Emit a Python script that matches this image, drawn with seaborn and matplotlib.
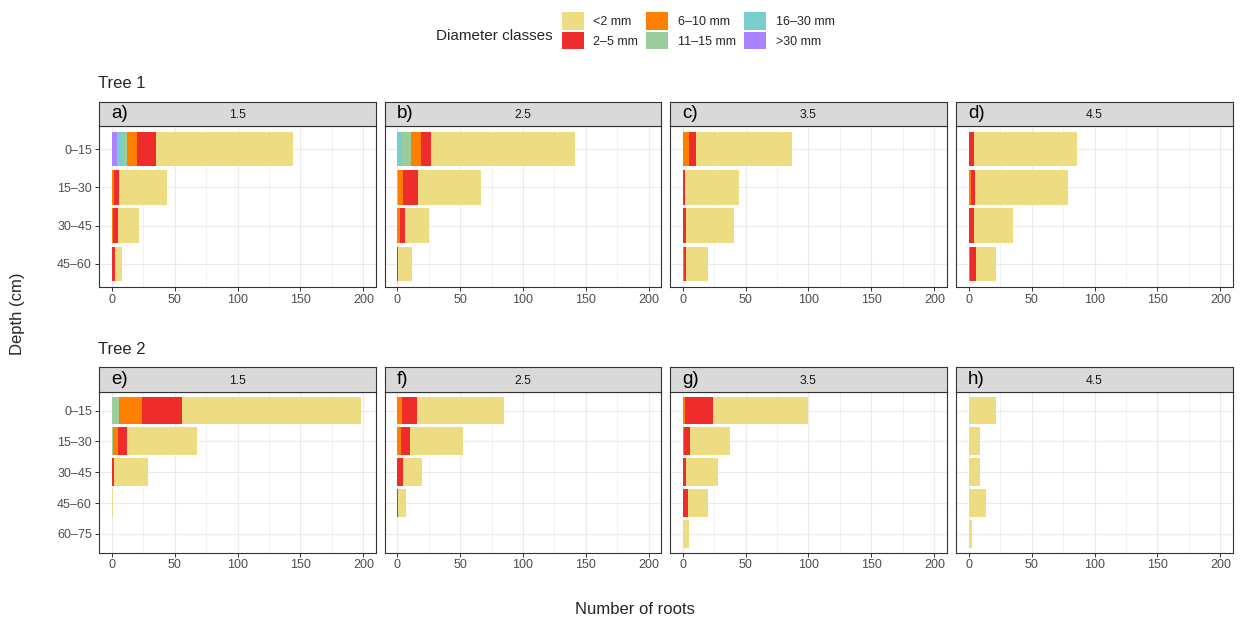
import numpy as np
import pandas as pd
import matplotlib
matplotlib.use("Agg")
import matplotlib.pyplot as plt
from matplotlib.patches import Patch
from matplotlib.ticker import FixedLocator
import seaborn as sns

# ---- data -------------------------------------------------------------
classes = ["<2 mm", "2–5 mm", "6–10 mm", "11–15 mm", "16–30 mm", ">30 mm"]
class_colors = ["#EEDC82", "#EE2C2C", "#FF7F00", "#9BCD9B", "#79CDCD", "#AB82FF"]

depths_tree1 = ["0–15", "15–30", "30–45", "45–60"]
depths_tree2 = ["0–15", "15–30", "30–45", "45–60", "60–75"]
distances = ["1.5", "2.5", "3.5", "4.5"]
letters_tree1 = ["a)", "b)", "c)", "d)"]
letters_tree2 = ["e)", "f)", "g)", "h)"]

# root counts per diameter class (order of `classes`), one list per depth
tree1_d15 = [[109, 38, 17, 5], [15, 4, 4, 3], [8, 2, 1, 0],
             [2, 0, 0, 0], [6, 0, 0, 0], [4, 0, 0, 0]]
tree1_d25 = [[114, 50, 19, 11], [8, 12, 4, 1], [8, 4, 2, 0],
             [7, 1, 0, 0], [4, 0, 0, 0], [0, 0, 0, 0]]
tree1_d35 = [[76, 43, 38, 17], [6, 2, 3, 2], [5, 0, 0, 1],
             [0, 0, 0, 0], [0, 0, 0, 0], [0, 0, 0, 0]]
tree1_d45 = [[82, 74, 31, 16], [4, 3, 4, 5], [0, 2, 0, 1],
             [0, 0, 0, 0], [0, 0, 0, 0], [0, 0, 0, 0]]

tree2_d15 = [[142, 56, 27, 1, 0], [32, 7, 2, 0, 0], [18, 4, 0, 0, 0],
             [6, 1, 0, 0, 0], [0, 0, 0, 0, 0], [0, 0, 0, 0, 0]]
tree2_d25 = [[69, 42, 15, 6, 0], [12, 7, 5, 1, 0], [4, 3, 0, 0, 0],
             [0, 0, 0, 0, 0], [0, 0, 0, 0, 0], [0, 0, 0, 0, 0]]
tree2_d35 = [[76, 32, 25, 16, 5], [22, 5, 3, 4, 0], [2, 1, 0, 0, 0],
             [0, 0, 0, 0, 0], [0, 0, 0, 0, 0], [0, 0, 0, 0, 0]]
tree2_d45 = [[22, 9, 9, 14, 3], [0, 0, 0, 0, 0], [0, 0, 0, 0, 0],
             [0, 0, 0, 0, 0], [0, 0, 0, 0, 0], [0, 0, 0, 0, 0]]

# ---- style ------------------------------------------------------------
sns.set_theme(style="white")
plt.rcParams["font.family"] = ["Liberation Sans", "DejaVu Sans"]

W, H = 1242, 618
fig = plt.figure(figsize=(W / 100, H / 100), dpi=100)


def fx(px):
    return px / W


def fy(py):
    return 1 - py / H


BORDER = "#333333"
GRID = "#EBEBEB"
TICKTXT = "#4D4D4D"

panel_lefts = [99, 384.5, 670, 956]
panel_w = 277


def draw_panel(counts, depths, left, strip_top, strip_bot, panel_bot,
               letter, dist, show_y):
    ax = fig.add_axes([fx(left), fy(panel_bot), panel_w / W,
                       (panel_bot - strip_bot) / H])
    df = pd.DataFrame({"depth": depths})
    for cls, vals in zip(classes, counts):
        df[cls] = vals
    # stacked bars: widest (cumulative total) first, then narrower overlays
    for k, col in enumerate(class_colors):
        df["cum"] = df[classes[k:]].sum(axis=1)
        sns.barplot(data=df, x="cum", y="depth", order=depths, orient="h",
                    color=col, saturation=1, width=0.9, errorbar=None,
                    linewidth=0, ax=ax)
    n = len(depths)
    ax.set_xlim(-10, 210)
    ax.set_ylim(n - 1 + 0.6, -0.6)
    ax.set_xlabel("")
    ax.set_ylabel("")
    ax.set_xticks([0, 50, 100, 150, 200])
    ax.xaxis.set_minor_locator(FixedLocator([25, 75, 125, 175]))
    ax.set_axisbelow(True)
    ax.grid(True, which="major", color=GRID, linewidth=0.8)
    ax.grid(True, which="minor", axis="x", color=GRID, linewidth=0.45)
    ax.tick_params(axis="x", which="major", length=3, width=0.7, color=BORDER,
                   labelsize=9, labelcolor=TICKTXT, pad=2, bottom=True)
    ax.tick_params(axis="x", which="minor", length=0)
    if show_y:
        ax.tick_params(axis="y", length=3, width=0.7, color=BORDER,
                       labelsize=9, labelcolor=TICKTXT, pad=2, left=True)
    else:
        ax.tick_params(axis="y", length=0, labelleft=False)
    for s in ax.spines.values():
        s.set_visible(True)
        s.set_color(BORDER)
        s.set_linewidth(0.8)

    sax = fig.add_axes([fx(left), fy(strip_bot), panel_w / W,
                        (strip_bot - strip_top) / H])
    sax.set_facecolor("#D9D9D9")
    sax.set_xticks([])
    sax.set_yticks([])
    for s in sax.spines.values():
        s.set_visible(True)
        s.set_color(BORDER)
        s.set_linewidth(0.8)
    sax.text(0.043, 0.5, letter, transform=sax.transAxes, ha="left",
             va="center", fontsize=13.5, color="black")
    sax.text(0.5, 0.45, dist, transform=sax.transAxes, ha="center",
             va="center", fontsize=8.8, color="#1A1A1A")


tree1 = [tree1_d15, tree1_d25, tree1_d35, tree1_d45]
tree2 = [tree2_d15, tree2_d25, tree2_d35, tree2_d45]

for i in range(4):
    draw_panel(tree1[i], depths_tree1, panel_lefts[i], 102, 126, 287,
               letters_tree1[i], distances[i], i == 0)
    draw_panel(tree2[i], depths_tree2, panel_lefts[i], 367, 392, 552.5,
               letters_tree2[i], distances[i], i == 0)

fig.text(fx(98), fy(83), "Tree 1", ha="left", va="center", fontsize=12)
fig.text(fx(98), fy(349), "Tree 2", ha="left", va="center", fontsize=12)
fig.text(fx(18), fy(314), "Depth (cm)", rotation=90, ha="center",
         va="center", fontsize=12)
fig.text(fx(635), fy(610), "Number of roots", ha="center", va="center",
         fontsize=12)

handles = [Patch(facecolor=c, edgecolor="none") for c in class_colors]
fig.legend(handles, classes, ncol=3, loc="upper left",
           bbox_to_anchor=(fx(561.7), fy(12.3)), frameon=False,
           fontsize=9, handlelength=1.76, handleheight=1.76,
           handletextpad=0.78, columnspacing=0.64, labelspacing=0.19,
           borderpad=0, borderaxespad=0)
fig.text(fx(553), fy(36), "Diameter classes", ha="right", va="center",
         fontsize=11)

fig.savefig("out.png", dpi=100)
